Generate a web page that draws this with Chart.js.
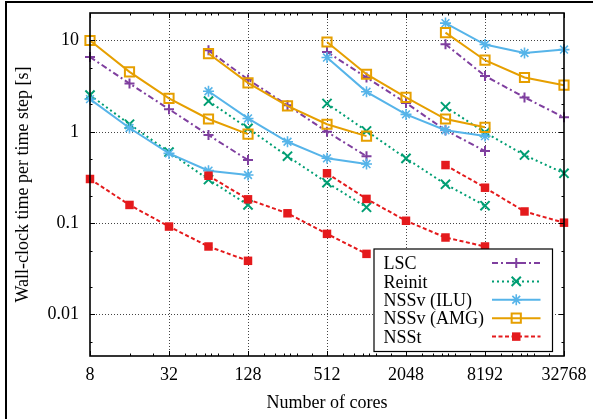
<!DOCTYPE html>
<html><head><meta charset="utf-8">
<script src="https://cdn.jsdelivr.net/npm/chart.js@4/dist/chart.umd.min.js"></script>
<style>html,body{margin:0;padding:0;background:#fff}canvas{display:block}</style>
</head><body>
<canvas id="c" width="593" height="419"></canvas>
<script>
// ---- data ----
const coresA = [8, 16, 32, 64, 128];
const coresB = [64, 128, 256, 512, 1024];
const coresC = [512, 1024, 2048, 4096, 8192];
const coresD = [4096, 8192, 16384, 32768];
const chunkCores = [coresA, coresB, coresC, coresD];

const seriesNames = ['LSC', 'Reinit', 'NSSv (ILU)', 'NSSv (AMG)', 'NSSt'];

const lsc     = [[6.6, 3.38, 1.77, 0.92, 0.49], [7.8, 3.74, 1.95, 1.0, 0.54], [7.49, 3.93, 2.07, 1.04, 0.615], [9.09, 4.09, 2.38, 1.44]];
const reinit  = [[2.52, 1.21, 0.60, 0.30, 0.158], [2.17, 1.09, 0.54, 0.277, 0.149], [2.04, 1.02, 0.512, 0.266, 0.155], [1.88, 0.98, 0.556, 0.351]];
const nssvIlu = [[2.28, 1.1, 0.58, 0.375, 0.336], [2.78, 1.4, 0.777, 0.512, 0.443], [6.5, 2.74, 1.55, 1.04, 0.897], [15.5, 9.02, 7.3, 7.95]];
const nssvAmg = [[10, 4.53, 2.32, 1.38, 0.944], [7.19, 3.43, 1.92, 1.21, 0.897], [9.63, 4.27, 2.38, 1.38, 1.12], [12.2, 6.08, 3.93, 3.24]];
const nsst    = [[0.304, 0.158, 0.0916, 0.0554, 0.0386], [0.33, 0.182, 0.128, 0.0762, 0.046], [0.351, 0.184, 0.106, 0.0695, 0.0554], [0.432, 0.244, 0.134, 0.101]];

const xTickValues = [8, 32, 128, 512, 2048, 8192, 32768];
const xTickLabels = ['8', '32', '128', '512', '2048', '8192', '32768'];
const yTickValues = [0.01, 0.1, 1, 10];
const yTickLabels = ['0.01', '0.1', '1', '10'];
const xMinorFactors = [1.32, 1.6, 1.87, 2.1, 2.37, 3.08];
const yMinorValues = [0.005, 0.02, 0.05, 0.2, 0.5, 2, 5];

// ---- styles ----
const FONT = "'Liberation Serif', 'Times New Roman', serif";
const FONT_OBJ = {family: FONT, size: 18};
const styles = [
  {color: '#7f3f9f', dash: [6, 3, 2, 3], pointStyle: 'cross', radius: 5, pbw: 2, fill: '#7f3f9f'},
  {color: '#009e73', dash: [2, 3], pointStyle: 'crossRot', radius: 6.5, pbw: 2, fill: '#009e73'},
  {color: '#56b4e9', dash: [], pointStyle: 'star', radius: 5.5, pbw: 1.6, fill: '#56b4e9'},
  {color: '#e69f00', dash: [], pointStyle: 'rect', radius: 6.5, pbw: 2, fill: 'rgba(255,255,255,0)'},
  {color: '#e41a1c', dash: [4, 2.5], pointStyle: 'rect', radius: 6, pbw: 0, fill: '#e41a1c'}
];

function toPoints(chunks) {
  const pts = [];
  chunks.forEach((vals, i) => {
    const xs = chunkCores[i];
    vals.forEach((v, j) => pts.push({x: xs[j], y: v}));
    pts.push({x: xs[xs.length - 1], y: null});
  });
  return pts;
}

const allSeries = [lsc, reinit, nssvIlu, nssvAmg, nsst];
const datasets = allSeries.map((s, i) => ({
  label: seriesNames[i],
  data: toPoints(s),
  borderColor: styles[i].color,
  backgroundColor: styles[i].fill,
  borderWidth: 2,
  borderDash: styles[i].dash,
  pointStyle: styles[i].pointStyle,
  pointRadius: styles[i].radius,
  pointBorderWidth: styles[i].pbw,
  pointBorderColor: styles[i].color,
  pointBackgroundColor: styles[i].fill,
  spanGaps: false,
  tension: 0,
  fill: false,
  clip: false,
  order: allSeries.length - i
}));

const decor = {
  id: 'decor',
  beforeDatasetsDraw(chart) {
    const {ctx, chartArea: a, scales: {x, y}} = chart;
    ctx.save();
    ctx.strokeStyle = '#444';
    ctx.lineWidth = 1;
    ctx.setLineDash([1, 2]);
    xTickValues.slice(1, -1).forEach(v => {
      const p = Math.round(x.getPixelForValue(v)) + 0.5;
      ctx.beginPath(); ctx.moveTo(p, a.top); ctx.lineTo(p, a.bottom); ctx.stroke();
    });
    yTickValues.forEach(v => {
      const p = Math.round(y.getPixelForValue(v)) + 0.5;
      ctx.beginPath(); ctx.moveTo(a.left, p); ctx.lineTo(a.right, p); ctx.stroke();
    });
    ctx.restore();
  },
  afterDatasetsDraw(chart) {
    const {ctx, chartArea: a, scales: {x, y}} = chart;
    ctx.save();
    ctx.setLineDash([]);
    ctx.strokeStyle = '#000';
    ctx.lineWidth = 1;
    const vtick = (p, len) => {
      ctx.beginPath(); ctx.moveTo(p, a.bottom); ctx.lineTo(p, a.bottom - len); ctx.stroke();
      ctx.beginPath(); ctx.moveTo(p, a.top); ctx.lineTo(p, a.top + len); ctx.stroke();
    };
    const htick = (p, len) => {
      ctx.beginPath(); ctx.moveTo(a.left, p); ctx.lineTo(a.left + len, p); ctx.stroke();
      ctx.beginPath(); ctx.moveTo(a.right, p); ctx.lineTo(a.right - len, p); ctx.stroke();
    };
    xTickValues.forEach(v => vtick(Math.round(x.getPixelForValue(v)) + 0.5, 5));
    const xm = [16, 24];
    xTickValues.slice(1, -1).forEach(b => xMinorFactors.forEach(f => xm.push(b * f)));
    xm.forEach(v => vtick(Math.round(x.getPixelForValue(v)) + 0.5, 2.5));
    yTickValues.forEach(v => htick(Math.round(y.getPixelForValue(v)) + 0.5, 5));
    yMinorValues.forEach(v => htick(Math.round(y.getPixelForValue(v)) + 0.5, 2.5));
    ctx.lineWidth = 1.6;
    ctx.strokeRect(a.left, a.top, a.right - a.left, a.bottom - a.top);

    // legend
    const bx0 = a.right - 190, bx1 = a.right - 11.5, by0 = a.bottom - 107, by1 = a.bottom - 4.5;
    ctx.fillStyle = '#fff';
    ctx.fillRect(bx0, by0, bx1 - bx0, by1 - by0);
    ctx.lineWidth = 1.2;
    ctx.strokeRect(bx0, by0, bx1 - bx0, by1 - by0);
    ctx.font = '18px ' + FONT;
    ctx.textBaseline = 'middle';
    ctx.textAlign = 'left';
    chart.data.datasets.forEach((ds, i) => {
      const st = styles[i];
      const cy = by0 + 14 + i * 18.4;
      ctx.fillStyle = '#000';
      ctx.fillText(ds.label, bx0 + 9.5, cy + 1.5);
      ctx.strokeStyle = st.color;
      ctx.lineWidth = 2;
      ctx.setLineDash(st.dash);
      ctx.beginPath(); ctx.moveTo(bx0 + 118, cy); ctx.lineTo(bx1 - 12, cy); ctx.stroke();
      ctx.setLineDash([]);
      ctx.fillStyle = st.fill;
      ctx.lineWidth = st.pbw;
      const mx = (bx0 + 118 + bx1 - 12) / 2;
      Chart.helpers.drawPoint(ctx, {pointStyle: st.pointStyle, radius: st.radius, borderWidth: st.pbw, rotation: 0}, mx, cy);
    });
    ctx.restore();
  },
  afterDraw(chart) {
    const ctx = chart.ctx;
    ctx.save();
    ctx.fillStyle = '#000';
    ctx.fillRect(5, 1, 588, 2);
    ctx.fillRect(5, 1, 2, 418);
    ctx.restore();
  }
};

Chart.defaults.font.family = FONT;
Chart.defaults.font.size = 18;
Chart.defaults.color = '#000';

new Chart(document.getElementById('c'), {
  type: 'line',
  data: {datasets},
  options: {
    responsive: false,
    devicePixelRatio: 1,
    animation: false,
    events: [],
    layout: {padding: {top: 13, right: 29, left: 0, bottom: 0}},
    plugins: {legend: {display: false}, tooltip: {enabled: false}},
    scales: {
      x: {
        type: 'logarithmic',
        min: 8, max: 32768,
        afterBuildTicks: s => { s.ticks = xTickValues.map(v => ({value: v})); },
        afterFit: s => { s.height = 63; s.paddingLeft = 0; s.paddingRight = 0; },
        ticks: {
          autoSkip: false, maxRotation: 0, padding: 8, font: FONT_OBJ, color: '#000',
          callback: (v, i) => xTickLabels[i]
        },
        grid: {display: false, drawTicks: false},
        border: {display: false},
        title: {display: true, text: 'Number of cores', font: FONT_OBJ, color: '#000', padding: {top: 0, bottom: 5}}
      },
      y: {
        type: 'logarithmic',
        min: 0.0035, max: 20,
        afterBuildTicks: s => { s.ticks = yTickValues.map(v => ({value: v})); },
        afterFit: s => { s.width = 90; s.paddingTop = 0; s.paddingBottom = 0; },
        ticks: {
          autoSkip: false, padding: 11, font: FONT_OBJ, color: '#000',
          callback: (v, i) => yTickLabels[i]
        },
        grid: {display: false, drawTicks: false},
        border: {display: false},
        title: {display: true, text: 'Wall-clock time per time step [s]', font: FONT_OBJ, color: '#000', padding: {top: 12, bottom: 0}}
      }
    }
  },
  plugins: [decor]
});
</script>
</body></html>
